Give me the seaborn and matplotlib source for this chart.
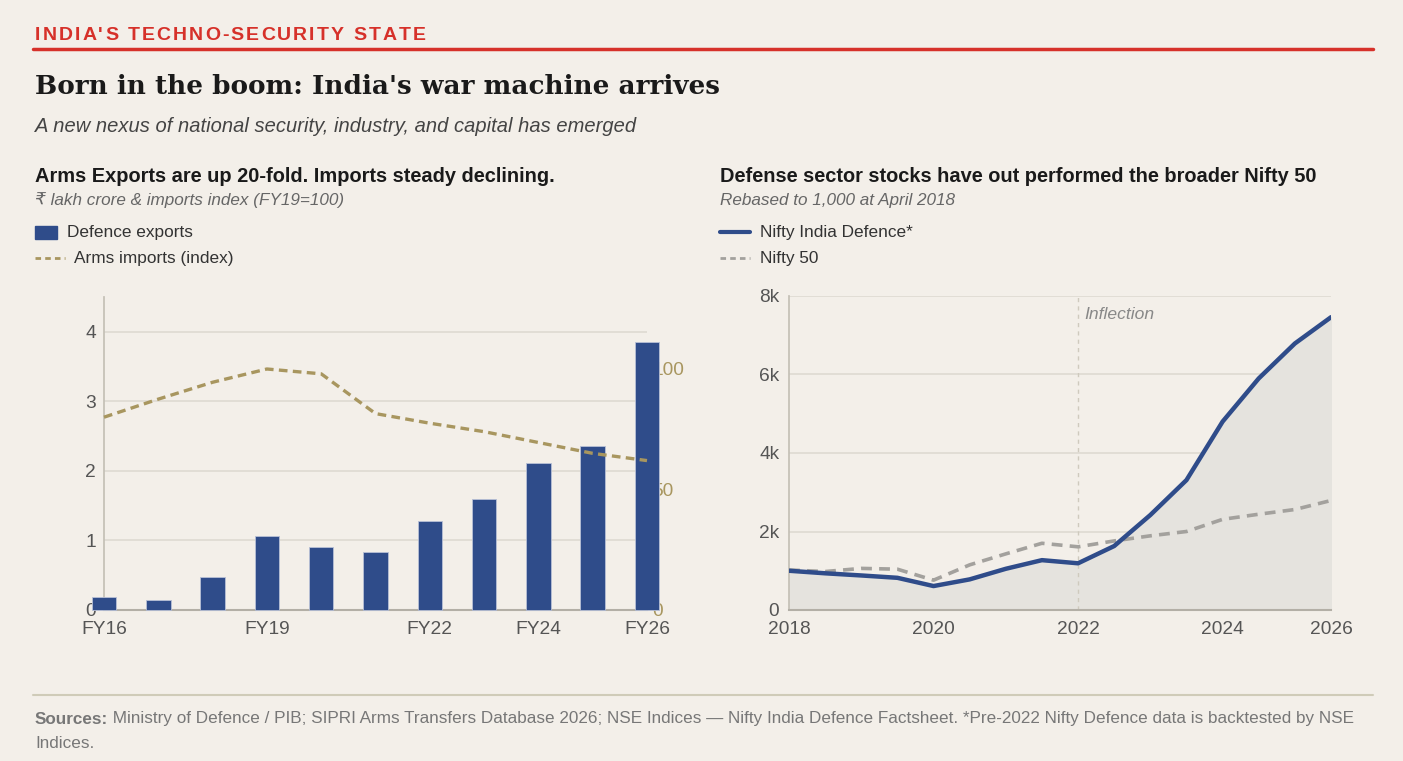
import numpy as np
import matplotlib
matplotlib.use("Agg")
import matplotlib.pyplot as plt
import matplotlib.transforms as mtransforms
from matplotlib.lines import Line2D
from matplotlib.patches import Rectangle
from matplotlib.font_manager import FontProperties
import seaborn as sns

# data
fiscal_years = ["FY16", "FY17", "FY18", "FY19", "FY20", "FY21", "FY22", "FY23", "FY24", "FY25", "FY26"]
fy_tick_labels = ["FY16", "", "", "FY19", "", "", "FY22", "", "FY24", "", "FY26"]
defence_exports = [0.18, 0.14, 0.47, 1.07, 0.91, 0.84, 1.28, 1.59, 2.11, 2.36, 3.85]
arms_imports_index = [80, 87.5, 94.5, 100, 98, 81.5, 77.5, 74, 69.5, 65, 62]

periods = [2018.0, 2018.5, 2019.0, 2019.5, 2020.0, 2020.5, 2021.0, 2021.5,
           2022.0, 2022.5, 2023.0, 2023.5, 2024.0, 2024.5, 2025.0, 2025.5]
nifty_defence = [1000, 935, 880, 820, 610, 780, 1050, 1270,
                 1190, 1630, 2420, 3310, 4800, 5900, 6790, 7460]
nifty_50 = [1020, 980, 1060, 1040, 760, 1150, 1430, 1700,
            1610, 1760, 1890, 2000, 2310, 2440, 2560, 2790]
year_ticks = [2018, 2020, 2022, 2024, 2025.5]
year_labels = ["2018", "2020", "2022", "2024", "2026"]

# styling
BG = "#f3efe9"
BLUE = "#2f4c8a"
GOLD = "#a8965f"
GREY_LINE = "#a3a19d"
TXT = "#555555"
GRID = "#dedad1"
SPINE = "#c4c0b6"
RED = "#d6312a"
W, H = 1403, 761
TICK_FS = 13.8

sns.set_theme(style="white")
plt.rcParams["font.family"] = ["Liberation Sans", "DejaVu Sans"]

fig = plt.figure(figsize=(W / 100, H / 100), dpi=100, facecolor=BG)

def fx(px):
    return px / W

def fy(py):
    return 1 - py / H

# header - kicker with letter spacing
renderer = fig.canvas.get_renderer()
kicker = "INDIA'S TECHNO-SECURITY STATE"
kprop = FontProperties(family="Liberation Sans", weight="bold", size=14)
xpos = 35.0
for ch in kicker:
    fig.text(fx(xpos), fy(35), ch, fontproperties=kprop, color=RED, va="center", ha="left")
    w, _, _ = renderer.get_text_width_height_descent(ch, kprop, ismath=False)
    xpos += w + 2.05
fig.add_artist(Line2D([fx(33), fx(1373)], [fy(49), fy(49)], color=RED, lw=2.5))

fig.text(fx(35), fy(87), "Born in the boom: India's war machine arrives", family="DejaVu Serif",
         fontsize=18.95, fontweight="bold", color="#1a1a1a", va="center")
fig.text(fx(35), fy(126), "A new nexus of national security, industry, and capital has emerged",
         fontsize=14.5, style="italic", color="#444444", va="center")

# panel headings
fig.text(fx(35), fy(176), "Arms Exports are up 20-fold. Imports steady declining.",
         fontsize=14.45, fontweight="bold", color="#1a1a1a", va="center")
fig.text(fx(35), fy(200), "₹ lakh crore & imports index (FY19=100)", fontsize=12.3, style="italic",
         color="#666666", va="center")
fig.text(fx(720), fy(176), "Defense sector stocks have out performed the broader Nifty 50",
         fontsize=14.45, fontweight="bold", color="#1a1a1a", va="center")
fig.text(fx(720), fy(200), "Rebased to 1,000 at April 2018", fontsize=12.3, style="italic",
         color="#666666", va="center")

# legends (hand drawn, like the original)
fig.add_artist(Rectangle((fx(35), fy(239)), fx(22), 13 / H, color=BLUE, transform=fig.transFigure))
fig.text(fx(67), fy(232), "Defence exports", fontsize=12.4, color="#333333", va="center")
fig.add_artist(Line2D([fx(35), fx(65)], [fy(258), fy(258)], color=GOLD, lw=2, dashes=(2, 1.5)))
fig.text(fx(74), fy(258), "Arms imports (index)", fontsize=12.4, color="#333333", va="center")
fig.add_artist(Line2D([fx(720), fx(750)], [fy(232), fy(232)], color=BLUE, lw=3))
fig.text(fx(760), fy(232), "Nifty India Defence*", fontsize=12.4, color="#333333", va="center")
fig.add_artist(Line2D([fx(720), fx(750)], [fy(258), fy(258)], color=GREY_LINE, lw=2, dashes=(2, 1.5)))
fig.text(fx(760), fy(258), "Nifty 50", fontsize=12.4, color="#333333", va="center")

# ---- left chart: exports bars + imports index
ax = fig.add_axes([fx(104), fy(610), fx(647 - 104), (610 - 296.7) / H])
ax2 = ax.twinx()
ax.set_zorder(ax2.get_zorder() + 1)
ax.patch.set_visible(False)
ax2.set_facecolor(BG)

sns.barplot(x=fiscal_years, y=defence_exports, color=BLUE, width=0.45, saturation=1,
            ax=ax, zorder=3)
for p in ax.patches:
    p.set_clip_on(False)
    p.set_edgecolor("#b8c0d6")
    p.set_linewidth(0.6)

ax.set_xlim(0, 10)
ax.set_ylim(0, 4.5)
ax2.set_ylim(0, 130)

# imports line uses the right axis scale but sits above the bars
trans = mtransforms.blended_transform_factory(ax.transData, ax2.transData)
ax.plot(np.arange(len(fiscal_years)), arms_imports_index, color=GOLD, lw=2.4,
        dashes=(2.6, 1.6), transform=trans, zorder=4, clip_on=False)

ax.set_yticks([0, 1, 2, 3, 4])
ax.set_yticklabels(["0", "1", "2", "3", "4"])
ax.set_xticks(range(len(fiscal_years)))
ax.set_xticklabels(fy_tick_labels)
ax.grid(axis="y", color=GRID, lw=1.2, zorder=0)
ax.tick_params(axis="both", length=0, labelsize=TICK_FS, colors=TXT)
ax.tick_params(axis="y", pad=6)
ax.tick_params(axis="x", pad=8)
ax.set_xlabel("")
ax.set_ylabel("")
ax2.set_yticks([0, 50, 100])
ax2.tick_params(axis="y", length=0, labelsize=TICK_FS, labelcolor=GOLD, pad=4)
for a in (ax, ax2):
    for s in ("top", "right"):
        a.spines[s].set_visible(False)
ax2.spines["left"].set_visible(False)
ax2.spines["bottom"].set_visible(False)
ax.spines["left"].set_color(SPINE)
ax.spines["bottom"].set_color("#b3afa6")
ax.spines["bottom"].set_linewidth(1.5)

# ---- right chart: indices
bx = fig.add_axes([fx(789), fy(610), fx(1331 - 789), (610 - 296) / H])
bx.set_facecolor(BG)
bx.fill_between(periods, nifty_defence, color="#e5e3de", zorder=1)
sns.lineplot(x=periods, y=nifty_50, color=GREY_LINE, lw=2.6, dashes=(3, 2), ax=bx, zorder=3)
sns.lineplot(x=periods, y=nifty_defence, color=BLUE, lw=3.2, ax=bx, zorder=4)
bx.axvline(2022, color="#cfcabe", lw=1, dashes=(3, 3), zorder=2)
bx.text(2022.08, 7520, "Inflection", style="italic", color="#888888", fontsize=12.6,
        va="center", ha="left")

bx.set_xlim(2018, 2025.5)
bx.set_ylim(0, 8000)
bx.set_yticks([0, 2000, 4000, 6000, 8000])
bx.set_yticklabels(["0", "2k", "4k", "6k", "8k"])
bx.set_xticks(year_ticks)
bx.set_xticklabels(year_labels)
bx.grid(axis="y", color=GRID, lw=1.2, zorder=0)
bx.tick_params(axis="both", length=0, labelsize=TICK_FS, colors=TXT)
bx.tick_params(axis="y", pad=7)
bx.tick_params(axis="x", pad=8)
for s in ("top", "right"):
    bx.spines[s].set_visible(False)
bx.spines["left"].set_color(SPINE)
bx.spines["bottom"].set_color("#b3afa6")
bx.spines["bottom"].set_linewidth(1.5)

# footer
fig.add_artist(Line2D([fx(33), fx(1373)], [fy(695), fy(695)], color="#cfcbb8", lw=1.5))
src = fig.text(fx(35), fy(719), "Sources:", fontsize=12.35, fontweight="bold", color="#777777", va="center")
plt.annotate(" Ministry of Defence / PIB; SIPRI Arms Transfers Database 2026; NSE Indices \u2014 "
             "Nifty India Defence Factsheet. *Pre-2022 Nifty Defence data is backtested by NSE",
             xy=(1, 0.5), xycoords=src, va="center", ha="left", fontsize=12.35, color="#777777",
             annotation_clip=False)
fig.text(fx(35), fy(744), "Indices.", fontsize=12.35, color="#777777", va="center")

fig.savefig("out.png", dpi=100, facecolor=BG)
